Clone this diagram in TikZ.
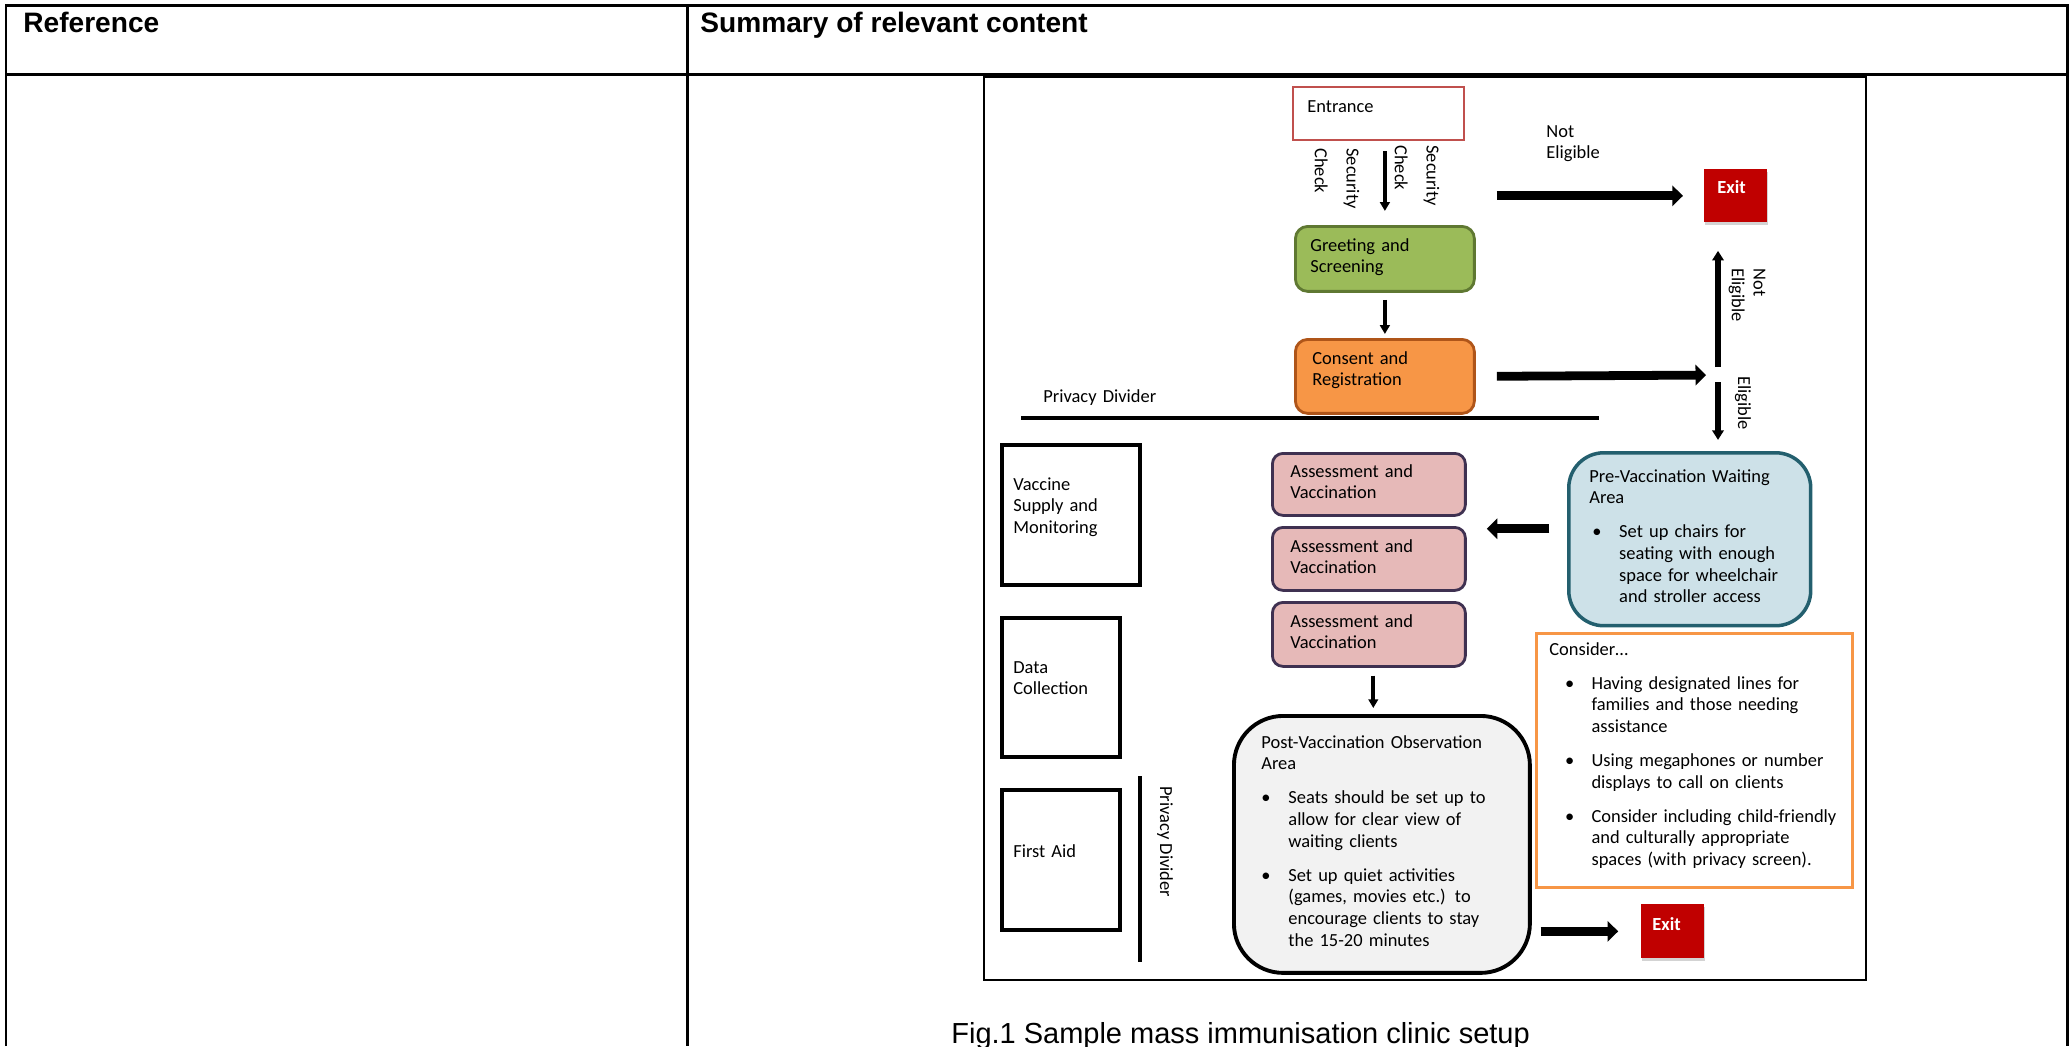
\documentclass[tikz,border=0pt]{standalone}
\usepackage{fontspec}
\setmainfont{Carlito}
\newfontfamily\arialfont{Liberation Sans}
\usetikzlibrary{arrows.meta,shadows}

\definecolor{entranceRed}{RGB}{192,80,77}
\definecolor{greetFill}{RGB}{155,187,89}
\definecolor{greetLine}{RGB}{95,120,50}
\definecolor{consentFill}{RGB}{247,150,70}
\definecolor{consentLine}{RGB}{175,85,25}
\definecolor{exitRed}{RGB}{192,0,0}
\definecolor{assessFill}{RGB}{230,185,184}
\definecolor{assessLine}{RGB}{63,49,81}
\definecolor{waitFill}{RGB}{205,225,232}
\definecolor{waitLine}{RGB}{35,95,110}
\definecolor{postFill}{RGB}{242,242,242}
\definecolor{considerLine}{RGB}{247,150,70}

\newcommand{\itemdot}[2]{\hspace*{#1}\makebox[#2][l]{\textbullet}}
\newcommand{\itemgap}[1]{\hspace*{#1}}

\tikzset{
  areabox/.style={draw, anchor=north west, inner sep=0pt},
  areatext/.style={anchor=base west, inner sep=0pt, text width=6cm, align=left,
    font=\fontsize{10.5}{12.35}\selectfont},
  sidelabel/.style={anchor=west, inner sep=0pt, rotate=-90, align=left,
    font=\fontsize{10.5}{12.35}\selectfont},
  headtext/.style={anchor=base west, inner sep=0pt, font=\arialfont\bfseries\fontsize{16}{19}\selectfont},
  exittext/.style={anchor=base west, inner sep=0pt, text=white, font=\bfseries\fontsize{10.5}{12.35}\selectfont},
  exitbox/.style={areabox, draw=none, fill=exitRed,
    drop shadow={shadow xshift=0.6pt, shadow yshift=-1.6pt, opacity=0.35}},
  thinarrow/.style={line width=2.2pt, -{Triangle[length=5pt,width=5.5pt]}},
  fatarrow/.style={line width=5pt, -{Triangle[length=6pt,width=11.5pt]}},
  sidearrow/.style={line width=3pt, -{Triangle[length=5.5pt,width=6.5pt]}},
  tableline/.style={line width=1.7pt}
}

\begin{document}
\begin{tikzpicture}[x=0.02cm, y=-0.02cm]
    \useasboundingbox (0,0) rectangle (2072,1046);

    % Table
    \draw[tableline] (6,1046) -- (6,5) -- (2067,5) -- (2067,1046);
    \draw[tableline] (6,74) -- (2067,74);
    \draw[tableline] (687,5) -- (687,1046);
    \node[headtext] (refHead) at (23,32) {Reference};
    \node[headtext] (sumHead) at (700,32) {Summary of relevant content};

    % Figure frame
    \draw[line width=1.2pt] (984,77) rectangle (1866,980);

    % Draw nodes
    \node[areabox, draw=entranceRed, line width=1.4pt, minimum width=3.42cm, minimum height=1.06cm] (entrance) at (1292,86) {};
    \node[areabox, rounded corners=7pt, fill=greetFill, draw=greetLine, line width=1.6pt, minimum width=3.58cm, minimum height=1.3cm] (greet) at (1294,225) {};
    \node[areabox, rounded corners=7pt, fill=consentFill, draw=consentLine, line width=1.6pt, minimum width=3.58cm, minimum height=1.48cm] (consent) at (1294,338) {};
    \node[exitbox, minimum width=1.26cm, minimum height=1.06cm] (exitTop) at (1704,169) {};
    \node[areabox, line width=2.2pt, minimum width=2.76cm, minimum height=2.8cm] (vaccine) at (1000,443) {};
    \node[areabox, line width=2.2pt, minimum width=2.36cm, minimum height=2.78cm] (data) at (1000,616) {};
    \node[areabox, line width=2.2pt, minimum width=2.36cm, minimum height=2.8cm] (firstaid) at (1000,788) {};
    \node[areabox, rounded corners=6pt, fill=assessFill, draw=assessLine, line width=1.6pt, minimum width=3.86cm, minimum height=1.24cm] (assess1) at (1271,452) {};
    \node[areabox, rounded corners=6pt, fill=assessFill, draw=assessLine, line width=1.6pt, minimum width=3.86cm, minimum height=1.26cm] (assess2) at (1271,526) {};
    \node[areabox, rounded corners=6pt, fill=assessFill, draw=assessLine, line width=1.6pt, minimum width=3.86cm, minimum height=1.28cm] (assess3) at (1271,601) {};
    \node[areabox, rounded corners=20pt, fill=waitFill, draw=waitLine, line width=2pt, minimum width=4.84cm, minimum height=3.46cm] (pre) at (1567,451) {};
    \node[areabox, draw=considerLine, line width=1.6pt, minimum width=6.32cm, minimum height=5.08cm] (consider) at (1535,632) {};
    \node[areabox, rounded corners=28pt, fill=postFill, line width=2.2pt, minimum width=5.92cm, minimum height=5.14cm] (post) at (1232,714) {};
    \node[exitbox, minimum width=1.26cm, minimum height=1.08cm] (exitBot) at (1641,904) {};
    \coordinate (fork) at (1718,375);
    \coordinate (waitOut) at ([yshift=6pt]pre.west);

    % Dividers
    \draw[line width=2.6pt] (1021,418) -- (1599,418);
    \draw[line width=2pt] (1140,776) -- (1140,962);

    % Draw connections
    \draw[thinarrow, shorten <=5.7pt, shorten >=8pt] (entrance.south -| greet.north) -- (greet.north);
    \draw[thinarrow, shorten <=4pt, shorten >=2.3pt] (greet.south) -- (consent.north);
    \draw[fatarrow, shorten <=12pt, shorten >=12pt] (greet.east |- exitTop.west) -- (exitTop.west);
    \draw[fatarrow, shorten <=12pt, shorten >=6.8pt] (consent.east) -- (fork);
    \draw[sidearrow, shorten <=4.5pt, shorten >=16pt] (fork) -- (fork |- exitTop.south);
    \draw[sidearrow, shorten <=4pt, shorten >=6.3pt] (fork) -- (fork |- pre.north);
    \draw[fatarrow, shorten <=10pt, shorten >=11.4pt] (waitOut) -- (waitOut -| assess2.east);
    \draw[thinarrow, shorten <=4.5pt, shorten >=3.4pt] ([xshift=2.5pt]assess3.south) -- ([xshift=2.5pt]assess3.south |- post.north);
    \draw[fatarrow, shorten <=5pt, shorten >=13pt] (post.east |- exitBot.west) -- (exitBot.west);

    % Labels
    \node[areatext] (entranceText) at (1307,112) {Entrance};
    \node[areatext] (greetText) at (1310,251) {Greeting and\\Screening};
    \node[areatext] (consentText) at (1312,364) {Consent and\\Registration};
    \node[exittext] (exitTopText) at (1717,193) {Exit};
    \node[exittext] (exitBotText) at (1652,930) {Exit};
    \node[areatext] (notEligTop) at (1546,137) {Not\\Eligible};
    \node[areatext] (privacyText) at (1043,402) {Privacy Divider};
    \node[areatext] (vaccineText) at (1013,490) {Vaccine\\Supply and\\Monitoring};
    \node[areatext] (dataText) at (1013,673) {Data\\Collection};
    \node[areatext] (firstaidText) at (1013,857) {First Aid};
    \node[areatext] (assess1Text) at (1290,477) {Assessment and\\Vaccination};
    \node[areatext] (assess2Text) at (1290,552) {Assessment and\\Vaccination};
    \node[areatext] (assess3Text) at (1290,627) {Assessment and\\Vaccination};
    \node[areatext] (preText) at (1589,482) {Pre-Vaccination Waiting\\Area\\[7pt]
        \itemdot{1.7pt}{15.3pt}Set up chairs for\\\itemgap{17pt}seating with enough\\
        \itemgap{17pt}space for wheelchair\\\itemgap{17pt}and stroller access};
    \node[areatext] (considerText) at (1549,655) {Consider…\\[7pt]
        \itemdot{9pt}{15pt}Having designated lines for\\\itemgap{24pt}families and those needing\\
        \itemgap{24pt}assistance\\[7pt]
        \itemdot{9pt}{15pt}Using megaphones or number\\\itemgap{24pt}displays to call on clients\\[7pt]
        \itemdot{9pt}{15pt}Consider including child-friendly\\\itemgap{24pt}and culturally appropriate\\
        \itemgap{24pt}spaces (with privacy screen).};
    \node[areatext] (postText) at (1261,748) {Post-Vaccination Observation\\Area\\[7pt]
        \itemdot{0pt}{15.4pt}Seats should be set up to\\\itemgap{15.4pt}allow for clear view of\\
        \itemgap{15.4pt}waiting clients\\[7pt]
        \itemdot{0pt}{15.4pt}Set up quiet activities\\\itemgap{15.4pt}(games, movies etc.) to\\
        \itemgap{15.4pt}encourage clients to stay\\\itemgap{15.4pt}the 15-20 minutes};
    \node[sidelabel, font=\fontsize{10.5}{18}\selectfont] (secLeft) at (1337,148) {Security\\Check};
    \node[sidelabel, font=\fontsize{10.5}{18}\selectfont] (secRight) at (1417,145) {Security\\Check};
    \node[sidelabel] (notEligSide) at (1747,268) {Not\\Eligible};
    \node[sidelabel] (eligSide) at (1743,376) {Eligible};
    \node[sidelabel] (privacySide) at (1165,786) {Privacy Divider};

    % Caption
    \node[anchor=base west, inner sep=0pt, font=\arialfont\fontsize{16.5}{19}\selectfont] (caption) at (951,1043) {Fig.1 Sample mass immunisation clinic setup};
\end{tikzpicture}
\end{document}
